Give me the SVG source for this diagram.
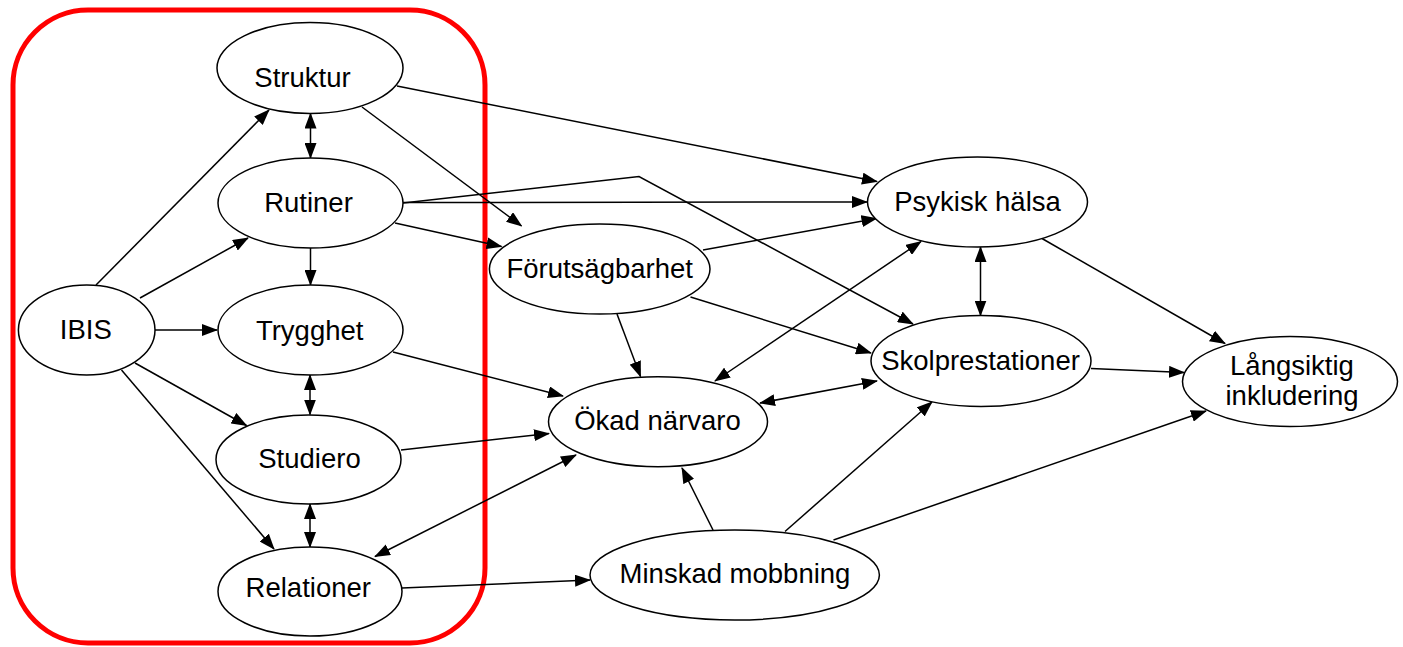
<svg xmlns="http://www.w3.org/2000/svg" width="1403" height="647" viewBox="0 0 1403 647">
<defs>
<style>
.n ellipse{fill:#fff;stroke:#000;stroke-width:1.5}
.n text{font-family:"Liberation Sans",Arial,Helvetica,sans-serif;font-size:27.5px;fill:#000;text-anchor:middle}
#edges path{fill:none;stroke:#000;stroke-width:1.5;marker-end:url(#ah)}
#edges path.bi{marker-start:url(#ah)}
</style>
<marker id="ah" viewBox="0 0 16 12" refX="15" refY="6" markerWidth="16" markerHeight="12" markerUnits="userSpaceOnUse" orient="auto-start-reverse">
<path d="M0,0 L16,6 L0,12 z" fill="#000"/>
</marker>
</defs>
<rect x="13" y="10" width="472" height="633" rx="75" ry="75" fill="none" stroke="#ff0000" stroke-width="5"/>
<g id="edges">
<path d="M96,285 L269,110"/>
<path d="M140,298 L248,238"/>
<path d="M155,330 L217,330"/>
<path d="M135,363 L246.5,425.5"/>
<path d="M121.5,370 L274,549"/>
<path class="bi" d="M310.5,113.5 L310.5,158"/>
<path d="M310.5,248 L310.5,285"/>
<path class="bi" d="M310,375 L310,414.5"/>
<path class="bi" d="M310,504 L310,547"/>
<path d="M362,107 L521.5,226"/>
<path d="M397,86 L877,181.5"/>
<path d="M403,202.5 L867,202"/>
<path d="M403,203 L639,176.5 L913,324"/>
<path d="M395,223 L501.5,246.5"/>
<path d="M703,250 L876.5,218.5"/>
<path d="M617,314 L640.5,376.5"/>
<path d="M690.5,297 L871,353"/>
<path d="M393,352 L563,396"/>
<path d="M401,450 L549,433.5"/>
<path class="bi" d="M375,556.5 L576,455"/>
<path d="M402,588 L590,580"/>
<path d="M713,530 L682,468"/>
<path d="M785,531.5 L932,402"/>
<path d="M833.5,540 L1206,411"/>
<path class="bi" d="M980.5,247 L980.5,315.5"/>
<path d="M1042,238.5 L1225,343.5"/>
<path d="M1091,368.5 L1184,372.5"/>
<path class="bi" d="M715,381 L921,241.5"/>
<path class="bi" d="M760,403 L877,381"/>
</g>
<g id="struktur" class="n"><ellipse cx="310" cy="68" rx="93" ry="45.5"/><text x="302.5" y="86.7">Struktur</text></g>
<g id="rutiner" class="n"><ellipse cx="310.5" cy="203" rx="92.5" ry="45"/><text x="308.5" y="211.7">Rutiner</text></g>
<g id="trygghet" class="n"><ellipse cx="310.5" cy="330" rx="92.5" ry="45"/><text x="309.7" y="340">Trygghet</text></g>
<g id="studiero" class="n"><ellipse cx="308.5" cy="459.5" rx="92.5" ry="44.5"/><text x="309.5" y="468.3">Studiero</text></g>
<g id="relationer" class="n"><ellipse cx="310" cy="591.5" rx="92" ry="44.5"/><text x="308.3" y="596.7">Relationer</text></g>
<g id="ibis" class="n"><ellipse cx="86.7" cy="330" rx="68.3" ry="45"/><text x="85.8" y="339.3">IBIS</text></g>
<g id="forutsagbarhet" class="n"><ellipse cx="599.7" cy="269" rx="110.3" ry="45"/><text x="599.7" y="278.3">Förutsägbarhet</text></g>
<g id="okad" class="n"><ellipse cx="658" cy="421.7" rx="109.5" ry="45"/><text x="657.5" y="430">Ökad närvaro</text></g>
<g id="minskad" class="n"><ellipse cx="734.7" cy="575" rx="144.7" ry="45"/><text x="735" y="583.3">Minskad mobbning</text></g>
<g id="psykisk" class="n"><ellipse cx="977.5" cy="202" rx="110" ry="45"/><text x="977.5" y="211">Psykisk hälsa</text></g>
<g id="skol" class="n"><ellipse cx="981" cy="361" rx="110" ry="45.5"/><text x="980.5" y="370">Skolprestationer</text></g>
<g id="langsiktig" class="n"><ellipse cx="1290" cy="381.5" rx="107.5" ry="45"/><text x="1292" y="375">Långsiktig</text><text x="1292" y="405">inkludering</text></g>
</svg>
